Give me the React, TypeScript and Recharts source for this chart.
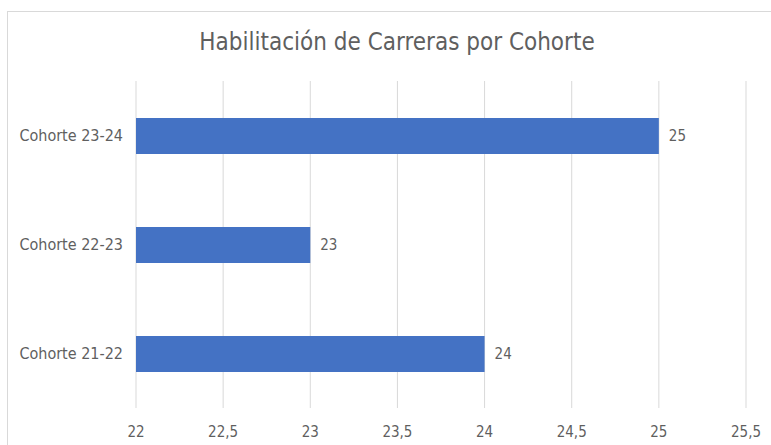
import { Bar, BarChart, CartesianGrid, LabelList, XAxis, YAxis } from 'recharts';

const cohorts = ['Cohorte 23-24', 'Cohorte 22-23', 'Cohorte 21-22'];
const careers = [25, 23, 24];
const xTicks = [22, 22.5, 23, 23.5, 24, 24.5, 25, 25.5];

const FONT = "'Liberation Sans Narrow', 'DejaVu Sans Condensed', 'Open Sans', sans-serif";
const TEXT = '#5f5f5f';

const chartData = cohorts.map((label, i) => ({ label, value: careers[i] }));

const formatTick = (value: number) => String(value).replace('.', ',');

export default function App() {
  return (
    <div
      style={{
        position: 'absolute',
        left: 0,
        top: 0,
        width: 771,
        height: 445,
        overflow: 'hidden',
        background: '#ffffff',
        fontFamily: FONT,
      }}
    >
      <div
        style={{
          position: 'absolute',
          left: 7,
          top: 11,
          width: 800,
          height: 500,
          border: '1px solid #d9d9d9',
        }}
      />
      <div
        style={{
          position: 'absolute',
          left: 7,
          top: 28,
          width: 780,
          textAlign: 'center',
          fontSize: 24,
          color: TEXT,
        }}
      >
        Habilitación de Carreras por Cohorte
      </div>
      <div style={{ position: 'absolute', left: 0, top: 0 }}>
        <BarChart
          width={771}
          height={445}
          data={chartData}
          layout="vertical"
          margin={{ top: 81, right: 25, bottom: 0, left: 0 }}
        >
          <CartesianGrid horizontal={false} vertical stroke="#d9d9d9" />
          <XAxis
            type="number"
            domain={[22, 25.5]}
            ticks={xTicks}
            allowDataOverflow
            axisLine={false}
            tickLine={false}
            tickMargin={12}
            height={37}
            tickFormatter={formatTick}
            tick={{ fill: TEXT, fontSize: 15, fontFamily: FONT }}
          />
          <YAxis
            type="category"
            dataKey="label"
            width={136}
            axisLine={false}
            tickLine={false}
            tickMargin={7}
            tick={{ fill: TEXT, fontSize: 16, fontFamily: FONT }}
          />
          <Bar dataKey="value" fill="#4472c4" barSize={36} isAnimationActive={false}>
            <LabelList
              dataKey="value"
              position="right"
              offset={10}
              style={{ fill: TEXT, fontSize: 15, fontFamily: FONT }}
            />
          </Bar>
        </BarChart>
      </div>
    </div>
  );
}
